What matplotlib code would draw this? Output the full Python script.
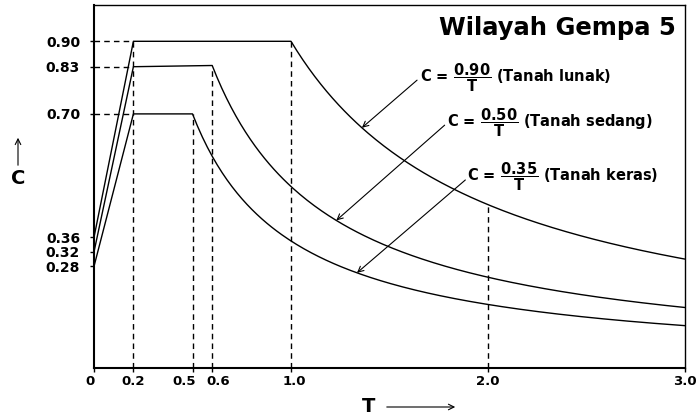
import numpy as np
import matplotlib.pyplot as plt

# response spectrum, seismic zone 5
soil = ["Tanah lunak", "Tanah sedang", "Tanah keras"]
c_t0 = [0.36, 0.32, 0.28]        # C at T = 0
c_plateau = [0.90, 0.83, 0.70]   # plateau value
t_corner = [1.0, 0.6, 0.5]       # end of plateau
c_numer = [0.90, 0.50, 0.35]     # C = numer / T beyond corner
t_rise = 0.2

x_ticks = [0, 0.2, 0.5, 0.6, 1.0, 2.0, 3.0]
x_ticklabels = ["0", "0.2", "0.5", "0.6", "1.0", "2.0", "3.0"]
x_label_shift = [-4, 0, -8, 6, 3, 0, 0]   # px nudges for crowded labels
y_ticks = [0.28, 0.32, 0.36, 0.70, 0.83, 0.90]
y_ticklabels = ["0.28", "0.32", "0.36", "0.70", "0.83", "0.90"]

# where the label arrows land on each curve, arrow tails and label spots
arrow_t = [1.36, 1.23, 1.335]
arrow_tail = [(1.64, 0.793), (1.78, 0.669), (1.885, 0.518)]
label_xy = [(1.655, 0.80), (1.79, 0.676), (1.895, 0.527)]

fig = plt.figure(figsize=(6.98, 4.18), dpi=100)
ax = fig.add_axes([94/698, 1 - 368/418, (685 - 94)/698, (368 - 5)/418])
ax.set_xlim(0, 3.0)
ax.set_ylim(0, 1.0)

dash = (0, (4, 3))
for i in range(3):
    t_tail = np.linspace(t_corner[i], 3.0, 200)
    t = np.concatenate([[0, t_rise], t_tail])
    c = np.concatenate([[c_t0[i], c_plateau[i]], c_numer[i] / t_tail])
    ax.plot(t, c, color='black', lw=1)
    # horizontal guide to the plateau
    ax.plot([0, t_rise], [c_plateau[i], c_plateau[i]], color='black', lw=1, ls=dash)
    # vertical guide at the corner period
    ax.plot([t_corner[i], t_corner[i]], [0, c_plateau[i]], color='black', lw=1, ls=dash)

ax.plot([t_rise, t_rise], [0, max(c_plateau)], color='black', lw=1, ls=dash)
ax.plot([2.0, 2.0], [0, c_numer[0] / 2.0], color='black', lw=1, ls=dash)

for i in range(3):
    ax.annotate("", xy=(arrow_t[i], c_numer[i] / arrow_t[i]), xytext=arrow_tail[i],
                arrowprops=dict(arrowstyle='->', color='black', lw=0.8,
                                shrinkA=0, shrinkB=0))
    txt = r"C = $\dfrac{\mathbf{%.2f}}{\mathbf{T}}$ (%s)" % (c_numer[i], soil[i])
    ax.text(label_xy[i][0], label_xy[i][1], txt, ha='left', va='center',
            fontsize=10.5, fontweight='bold')

ax.text(0.985, 0.937, "Wilayah Gempa 5", transform=ax.transAxes, ha='right', va='center',
        fontsize=17.5, fontweight='bold')

# x tick labels placed by hand so the 0.5 / 0.6 pair can be pulled apart
ax.set_xticks(x_ticks)
ax.set_xticklabels([])
for t, lab, dx in zip(x_ticks, x_ticklabels, x_label_shift):
    ax.annotate(lab, xy=(t, 0), xycoords=('data', 'axes fraction'),
                xytext=(dx, -7), textcoords='offset pixels',
                ha='center', va='top', fontsize=9.5, fontweight='bold')
ax.set_yticks(y_ticks)
ax.set_yticklabels(y_ticklabels, fontsize=10, fontweight='bold')
ax.tick_params(axis='y', direction='out', length=3, width=1, pad=7)
ax.tick_params(axis='x', direction='out', length=3, width=1)
for s in ['left', 'bottom']:
    ax.spines[s].set_linewidth(1.5)
for s in ['top', 'right']:
    ax.spines[s].set_linewidth(1.0)

# axis names with arrows
fig.text(18/698, 1 - 178/418, "C", ha='center', va='center', fontsize=14, fontweight='bold')
ax.annotate("", xy=(18/698, 1 - 135/418), xytext=(18/698, 1 - 168/418),
            xycoords='figure fraction', textcoords='figure fraction',
            arrowprops=dict(arrowstyle='->', color='black', lw=0.8))
fig.text(369/698, 1 - 407/418, "T", ha='center', va='center', fontsize=14, fontweight='bold')
ax.annotate("", xy=(458/698, 1 - 407/418), xytext=(384/698, 1 - 407/418),
            xycoords='figure fraction', textcoords='figure fraction',
            arrowprops=dict(arrowstyle='->', color='black', lw=0.8))

fig.savefig("out.png", dpi=100)
